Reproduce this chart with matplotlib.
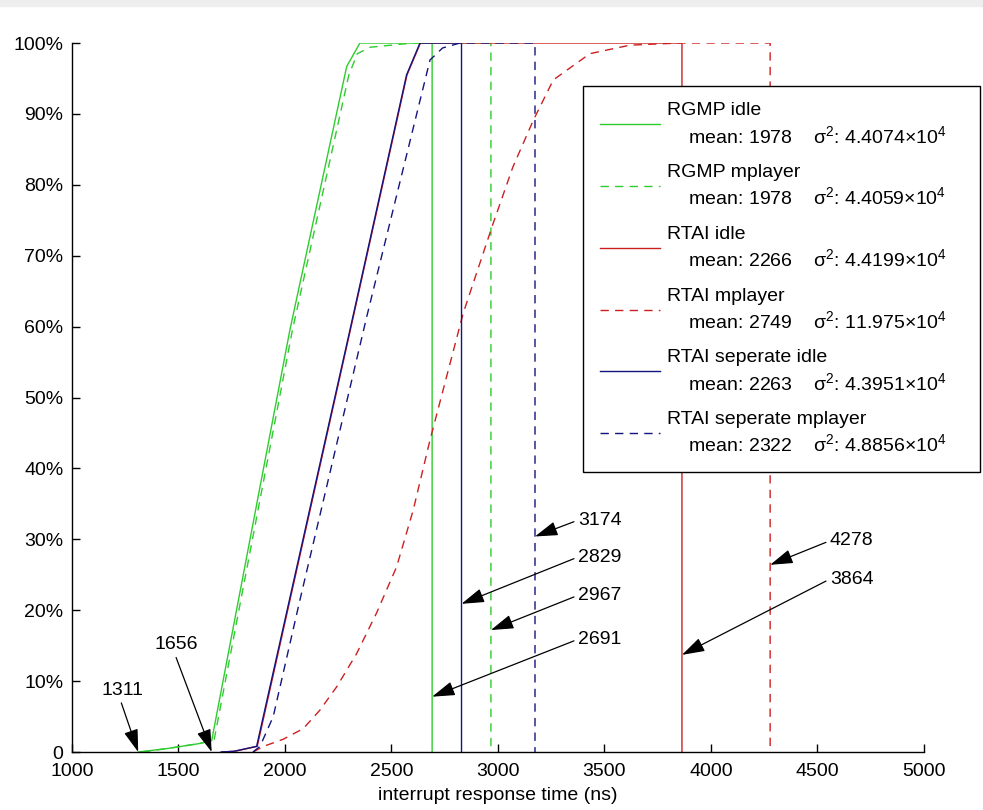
import matplotlib
matplotlib.use("Agg")
import matplotlib.pyplot as plt
from matplotlib.patches import Rectangle

plt.rcParams['font.family'] = ['Liberation Sans', 'DejaVu Sans']
plt.rcParams['mathtext.fontset'] = 'custom'
plt.rcParams['mathtext.rm'] = 'Liberation Sans'
plt.rcParams['mathtext.it'] = 'Liberation Sans:italic'

# cumulative distribution points (ns, %)
rgmp_idle_x = [1311, 1450, 1600, 1656, 2023, 2290, 2352]
rgmp_idle_y = [0, 0.5, 1.2, 1.6, 59.5, 96.7, 100]
rgmp_mp_x = [1330, 1450, 1600, 1668, 2035, 2300, 2340, 2400, 2600]
rgmp_mp_y = [0, 0.5, 1.2, 1.8, 59.5, 95.5, 98.5, 99.4, 100]
rtai_idle_x = [1705, 1765, 1870, 2307, 2573, 2636]
rtai_idle_y = [0, 0.1, 0.8, 59.5, 95.5, 100]
rtai_mp_x = [1850, 1900, 1992, 2086, 2164, 2243, 2337, 2430, 2524, 2602, 2681,
             2837, 2978, 3070, 3166, 3260, 3432, 3620, 3854]
rtai_mp_y = [0, 0.8, 1.8, 3.3, 5.9, 9.2, 13.9, 19.6, 26.1, 34.1, 44.0,
             61.9, 74.6, 82.5, 89.1, 94.8, 98.5, 99.7, 100]
sep_idle_x = [1700, 1760, 1867, 2305, 2571, 2634]
sep_idle_y = [0, 0.1, 0.8, 59.5, 95.5, 100]
sep_mp_x = [1850, 1883, 1945, 2070, 2384, 2681, 2740, 2822]
sep_mp_y = [0, 0.8, 5.0, 21.4, 61.4, 97.6, 99.3, 100]

names = ['RGMP idle', 'RGMP mplayer', 'RTAI idle', 'RTAI mplayer',
         'RTAI seperate idle', 'RTAI seperate mplayer']
means = [1978, 1978, 2266, 2749, 2263, 2322]
variances = ['4.4074', '4.4059', '4.4199', '11.975', '4.3951', '4.8856']
maxima = [2691, 2967, 3864, 4278, 2829, 3174]
minima = [1311, 1656]

# annotation label positions (x, %) and arrow tip heights (%)
max_text_pos = [(3376, 15.9), (3376, 22.1), (4559, 24.4), (4559, 29.8), (3376, 27.5), (3376, 32.7)]
max_tip_y = [7.8, 17.2, 13.7, 26.4, 20.9, 30.4]
min_text_pos = [(1235, 8.7), (1492, 15.1)]

green = '#2fcc2f'
red = '#cc2020'
blue = '#14147f'
colors = [green, green, red, red, blue, blue]
styles = ['-', '--', '-', '--', '-', '--']

series = [(rgmp_idle_x, rgmp_idle_y), (rgmp_mp_x, rgmp_mp_y),
          (rtai_idle_x, rtai_idle_y), (rtai_mp_x, rtai_mp_y),
          (sep_idle_x, sep_idle_y), (sep_mp_x, sep_mp_y)]

fig = plt.figure(figsize=(9.83, 8.10), dpi=100)
fig.patches.append(Rectangle((0, 0.992), 1, 0.008, transform=fig.transFigure,
                             color='#eeeeee', zorder=0))
ax = fig.add_axes([0.0732, 0.0716, 0.8667, 0.8753])

handles = []
for i, (xs, ys) in enumerate(series):
    x = list(xs) + [maxima[i], maxima[i]]
    y = list(ys) + [100, 0]
    kw = dict(color=colors[i], lw=1.0, zorder=2 + (i == 4))
    if styles[i] == '--':
        kw['dashes'] = (6, 4.5)
    label = (names[i] + '\n    mean: %d    $\\mathrm{\\sigma}^{2}$: %s$\\times$10$^{4}$    '
             % (means[i], variances[i]))
    h, = ax.plot(x, y, label=label, **kw)
    handles.append(h)

arrow = dict(arrowstyle='-|>,head_length=0.7,head_width=0.22', color='black',
             lw=0.9, mutation_scale=20, shrinkA=1, shrinkB=0)
for i, m in enumerate(maxima):
    ax.annotate(str(m), xy=(m, max_tip_y[i]), xytext=max_text_pos[i],
                ha='left', va='center', fontsize=14,
                arrowprops=dict(arrow, relpos=(0, 0.5)))
for i, m in enumerate(minima):
    ax.annotate(str(m), xy=(m, 0), xytext=min_text_pos[i],
                ha='center', va='center', fontsize=14,
                arrowprops=dict(arrow, relpos=(0.45, 0)))

ax.set_xlim(1000, 5000)
ax.set_ylim(0, 100)
ax.set_xticks(range(1000, 5001, 500))
ax.set_yticks(range(0, 101, 10))
ax.set_yticklabels(['0'] + ['%d%%' % v for v in range(10, 101, 10)])
ax.spines['top'].set_visible(False)
ax.spines['right'].set_visible(False)
for s in ('left', 'bottom'):
    ax.spines[s].set_linewidth(1.0)
ax.tick_params(direction='in', length=6, width=1.0, labelsize=14)
ax.tick_params(axis='x', pad=8)
ax.tick_params(axis='y', pad=6)
ax.set_xlabel('interrupt response time (ns)', fontsize=14, labelpad=5)

leg = ax.legend(handles=handles, loc='upper right', bbox_to_anchor=(0.997, 0.894),
                bbox_transform=fig.transFigure, fontsize=14, handlelength=3.1,
                handletextpad=0.35, labelspacing=0.9, borderpad=0.85,
                borderaxespad=0, fancybox=False, framealpha=1, edgecolor='black')
leg.get_frame().set_linewidth(1.0)
for t in leg.get_texts():
    t.set_linespacing(1.3)

fig.savefig('out.png', dpi=100)
